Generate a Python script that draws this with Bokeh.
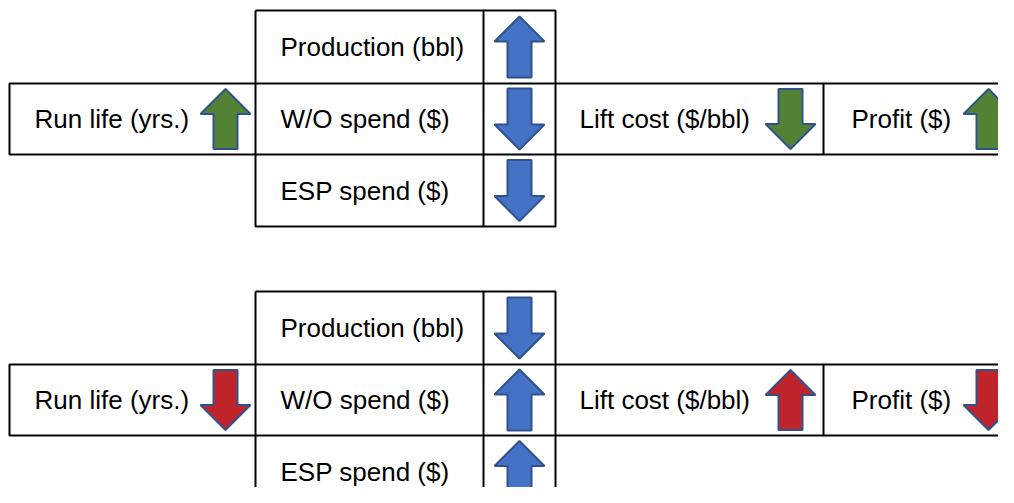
from bokeh.plotting import figure
from bokeh.models import Range1d
from bokeh.core.properties import value
from bokeh.embed import file_html
from bokeh.resources import INLINE

# ---- content ----
center_labels = ["Production (bbl)", "W/O spend ($)", "ESP spend ($)"]
side_labels = ["Run life (yrs.)", "Lift cost ($/bbl)", "Profit ($)"]
# scenario 1 (top) and scenario 2 (bottom): +1 = up, -1 = down
center_dirs = [[1, -1, -1], [-1, 1, 1]]
side_dirs = [[1, -1, 1], [-1, 1, -1]]
side_colors = ["#548235", "#C0242B"]

# ---- layout (screen px) ----
W, H = 998, 487
X0, Y0 = 0, 0
tops = [10, 291]
row_h = [73, 71, 72]
col_x = [255, 483, 555]
mid_left, mid_div = 9, 823
text_x_center = 280
side_text_x = [34, 579, 851]
side_arrow_x = [225, 790, 988]
center_arrow_x = 519

BLUE = "#4472C4"
EDGE = "#2F528F"
FONT = value("Liberation Sans")
FSIZE = "26px"

p = figure(width=W, height=H, x_range=Range1d(X0, X0 + W), y_range=Range1d(Y0 + H, Y0),
           output_backend="svg", toolbar_location=None, min_border=0)
p.axis.visible = False
p.grid.visible = False
p.outline_line_color = None
p.background_fill_color = "white"
p.border_fill_color = "white"


def arrow(cx, cy, d, h=61, hw=25, sw=12, hh=25):
    ty = cy - h / 2 * d
    by = cy + h / 2 * d
    hb = ty + hh * d
    xs = [cx, cx + hw, cx + sw, cx + sw, cx - sw, cx - sw, cx - hw]
    ys = [ty, hb, hb, by, by, hb, hb]
    return xs, ys


for s, top in enumerate(tops):
    r = [top, top + row_h[0], top + row_h[0] + row_h[1], top + sum(row_h)]
    xs_l, ys_l = [], []
    xs_l += [[col_x[0], col_x[2], col_x[2], col_x[0], col_x[0]]]
    ys_l += [[r[0], r[0], r[3], r[3], r[0]]]
    xs_l += [[col_x[1], col_x[1]]]
    ys_l += [[r[0], r[3]]]
    xs_l += [[X0 + W + 5, mid_left, mid_left, X0 + W + 5]]
    ys_l += [[r[1], r[1], r[2], r[2]]]
    xs_l += [[mid_div, mid_div]]
    ys_l += [[r[1], r[2]]]
    p.multi_line(xs_l, ys_l, line_color="black", line_width=2)

    cys = [(r[i] + r[i + 1]) / 2 for i in range(3)]
    p.text(x=[text_x_center] * 3, y=cys, text=center_labels, text_font=FONT,
           text_font_size=FSIZE, text_baseline="middle", text_align="left", text_color="black")
    axs, ays = [], []
    for i in range(3):
        a, b = arrow(center_arrow_x, cys[i], center_dirs[s][i])
        axs.append(a); ays.append(b)
    p.patches(axs, ays, fill_color=BLUE, line_color=EDGE, line_width=2)
    p.text(x=side_text_x, y=[cys[1]] * 3, text=side_labels, text_font=FONT,
           text_font_size=FSIZE, text_baseline="middle", text_align="left", text_color="black")
    sxs, sys_ = [], []
    for i in range(3):
        a, b = arrow(side_arrow_x[i], cys[1], side_dirs[s][i], h=60)
        sxs.append(a); sys_.append(b)
    p.patches(sxs, sys_, fill_color=side_colors[s], line_color=EDGE, line_width=2)

open("out.html", "w").write(file_html(p, INLINE))
